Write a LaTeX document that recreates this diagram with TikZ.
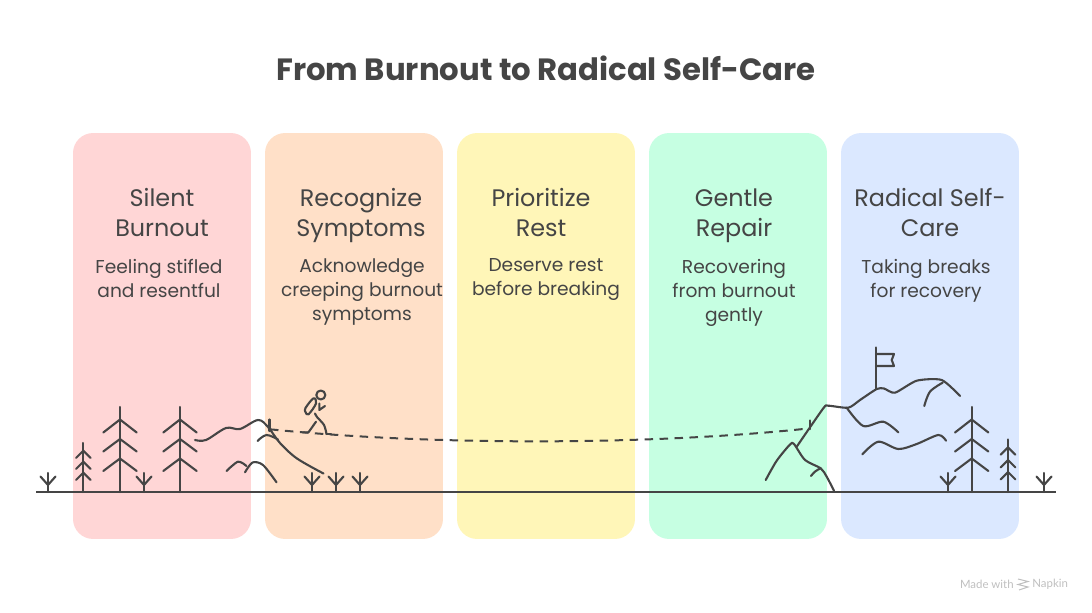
\documentclass[tikz,border=0pt]{standalone}
\usepackage{fontspec}
\setmainfont{Poppins}
\newfontfamily\smallfont{Lato}
\usepackage{tikz}

\definecolor{ink}{HTML}{454545}
\definecolor{pinkbox}{HTML}{FFD6D6}
\definecolor{orangebox}{HTML}{FFE0C8}
\definecolor{yellowbox}{HTML}{FFF6B8}
\definecolor{greenbox}{HTML}{C6FFE2}
\definecolor{bluebox}{HTML}{DBE8FF}

\tikzset{
  colbox/.style={rounded corners=0.4cm, minimum width=3.56cm, minimum height=8.12cm, inner sep=0pt},
  headtext/.style={text=ink, align=center, font=\fontsize{13.6}{17.08}\selectfont, inner sep=0pt, anchor=north},
  bodytext/.style={text=ink, align=center, font=\fontsize{10.6}{13.66}\selectfont, inner sep=0pt, anchor=north},
  sketch/.style={draw=ink, line width=0.042cm, line cap=round, line join=round},
  ground/.style={draw=ink, line width=0.05cm},
  trail/.style={draw=ink, line width=0.04cm, dash pattern=on 0.17cm off 0.13cm},
}

% one small sprig standing on the ground line
\newcommand{\sprigat}[1]{
  \draw[sketch] (#1,492)--(#1,473);
  \draw[sketch] (#1-7.5,476.5)--(#1,485)--(#1+7.5,476.5);
}
% tall tree with three pairs of branches
\newcommand{\treeat}[1]{
  \draw[sketch] (#1,492)--(#1,407);
  \draw[sketch] (#1-16.7,432.5)--(#1,419.5)--(#1+16.7,432.5);
  \draw[sketch] (#1-16.7,451.5)--(#1,439)--(#1+16.7,451.5);
  \draw[sketch] (#1-16.7,471)--(#1,458.5)--(#1+16.7,471);
}
% little fir, args: x, top, then the three branch joints
\newcommand{\firat}[5]{
  \draw[sketch] (#1,492)--(#1,#2);
  \draw[sketch] (#1-7.3,#3+7.3)--(#1,#3)--(#1+7.3,#3+7.3);
  \draw[sketch] (#1-7.3,#4+7.3)--(#1,#4)--(#1+7.3,#4+7.3);
  \draw[sketch] (#1-7.3,#5+7.3)--(#1,#5)--(#1+7.3,#5+7.3);
}

\begin{document}
\begin{tikzpicture}[x=0.02cm,y=-0.02cm]
    \useasboundingbox (0,0) rectangle (1092,612);
    \node[text=ink, inner sep=0pt, font=\bfseries\fontsize{17.5}{21}\selectfont] (title) at (546,68) {From Burnout to Radical Self-Care};
    %
    \node[colbox, fill=pinkbox] (silentbox) at (162,336) {};
    \node[colbox, fill=orangebox] (recognizebox) at (354,336) {};
    \node[colbox, fill=yellowbox] (restbox) at (546,336) {};
    \node[colbox, fill=greenbox] (repairbox) at (738,336) {};
    \node[colbox, fill=bluebox] (carebox) at (930,336) {};
    %
    \node[headtext] (silent) at (162,188) {Silent\\Burnout};
    \node[headtext] (recognize) at (361,188) {Recognize\\Symptoms};
    \node[headtext] (rest) at (541,188) {Prioritize\\Rest};
    \node[headtext] (repair) at (734,188) {Gentle\\Repair};
    \node[headtext] (care) at (930,188) {Radical Self-\\Care};
    %
    \node[bodytext] (silenttext) at (159,258.5) {Feeling stifled\\and resentful};
    \node[bodytext] (recognizetext) at (362,258.5) {Acknowledge\\creeping burnout\\symptoms};
    \node[bodytext] (resttext) at (546,258.5) {Deserve rest\\before breaking};
    \node[bodytext] (repairtext) at (734,258.5) {Recovering\\from burnout\\gently};
    \node[bodytext] (caretext) at (926,258.5) {Taking breaks\\for recovery};
    %
    \draw[ground] (36,492)--(1056,492);
    \sprigat{48}
    \firat{83.3}{443}{450.7}{461.7}{472.7}
    \treeat{120}
    \sprigat{144}
    \treeat{180}
    \sprigat{312}
    \sprigat{336}
    \sprigat{360}
    \sprigat{948}
    \treeat{971.7}
    \firat{1008}{439.5}{447.3}{460}{472}
    \sprigat{1044}
    %
    % left hill
    \draw[sketch] plot[smooth,tension=0.55] coordinates {(195,440) (206,440) (226,428) (240,429) (258,420) (268,427) (280,443) (297,458.5) (323.5,473.5)};
    \draw[sketch] (269.5,419.5)--(269.5,431);
    \draw[sketch] plot[smooth,tension=0.6] coordinates {(257.5,441) (266.5,435) (278,439.5)};
    \draw[sketch] plot[smooth,tension=0.5] coordinates {(226.5,471) (238,461.7) (246.5,466)};
    \draw[sketch] plot[smooth,tension=0.5] coordinates {(245,472.3) (252.5,462.5) (263,465) (276.5,482.3)};
    %
    % hiker
    \draw[sketch] (320.8,395) circle (4.5);
    \draw[sketch] plot[smooth cycle,tension=0.6] coordinates {(313.5,398.3) (305.5,408) (305.5,412) (308.5,414.3) (316,403.5)};
    \draw[sketch] (319.3,403.5)--(319.3,410)--(325,406);
    \draw[sketch] plot[smooth,tension=0.5] coordinates {(315,413.5) (317,417) (324,425) (326.5,434)};
    \draw[sketch] (326.5,434)--(331,434);
    \draw[sketch] (316,421.7)--(308.5,432.3)--(302.7,432.3);
    %
    % right hills and flag
    \draw[sketch] plot[smooth,tension=0.45] coordinates {(765.7,480) (776.7,460.7) (790,444.5) (794,444) (805,460) (820.7,468.3) (826.7,476.7) (834,490.7)};
    \draw[sketch] (811,476) to[bend left=15] (820.7,468.3);
    \draw[sketch] plot[smooth,tension=0.4] coordinates {(796.7,446.7) (823.3,408.3) (828.3,405.7) (848.3,407.7) (860,400) (876.7,389) (884,388.5) (895,392.7) (916.7,380.7) (941.7,380) (960,396)};
    \draw[sketch] plot[smooth,tension=0.6] coordinates {(924.3,406) (930,391.7) (942.7,382.7)};
    \draw[sketch] plot[smooth,tension=0.5] coordinates {(846.7,407.7) (863.3,426) (883.3,421.7) (898.3,432.3)};
    \draw[sketch] plot[smooth,tension=0.5] coordinates {(862.3,454.3) (878.3,441.7) (898.3,449) (916.7,444) (938.3,435) (946,440.7)};
    \draw[sketch] (810,420.5)--(810,429);
    \draw[sketch] (876,389)--(876,347.5);
    \draw[sketch] (876,354)--(894,354)--(891.7,360)--(894,366)--(876,366);
    %
    % trail between the two hills
    \coordinate (trailstart) at (270,429.3);
    \coordinate (trailend) at (810,428.3);
    \draw[trail] (trailstart) .. controls (430,445.5) and (650,445.5) .. (trailend);
    %
    \node[text=black!25, inner sep=0pt, font=\smallfont\fontsize{6.5}{8}\selectfont, anchor=east] (madewith) at (1014,584.5) {Made with};
    \node[text=black!25, inner sep=0pt, font=\smallfont\fontsize{6.5}{8}\selectfont, anchor=west] (napkin) at (1032,584.5) {Napkin};
    \draw[draw=black!25, line width=0.02cm] (1018,579)--(1028,581.5)--(1018,584.5)--(1028,587)--(1019,590);
\end{tikzpicture}
\end{document}
